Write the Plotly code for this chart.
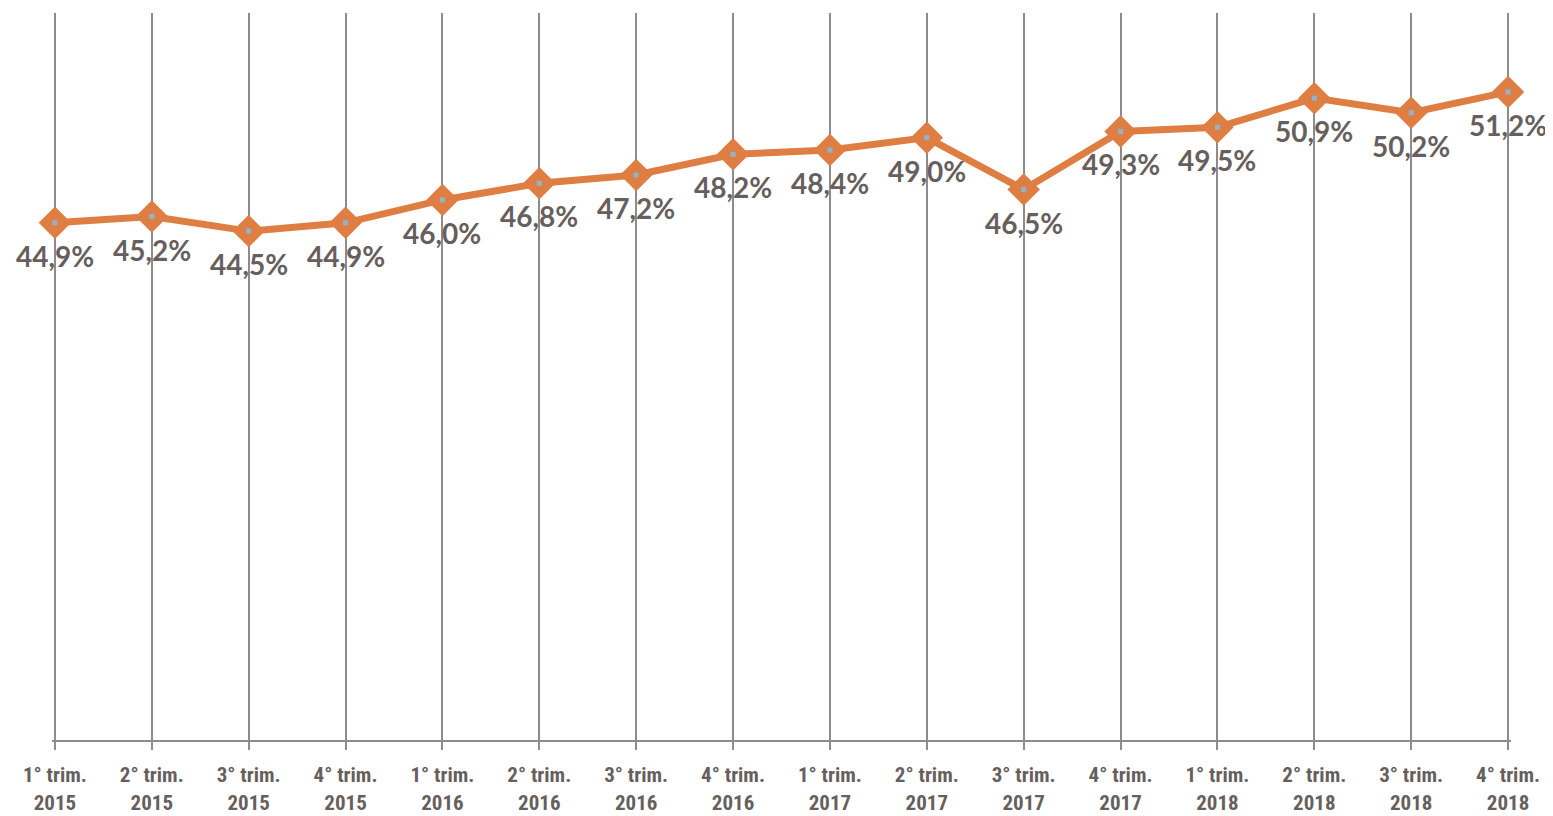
import plotly.graph_objects as go

quarters = ["1° trim.", "2° trim.", "3° trim.", "4° trim."] * 4
years = ["2015"] * 4 + ["2016"] * 4 + ["2017"] * 4 + ["2018"] * 4
values = [44.9, 45.2, 44.5, 44.9, 46.0, 46.8, 47.2, 48.2, 48.4, 49.0, 46.5, 49.3, 49.5, 50.9, 50.2, 51.2]

x = list(range(len(values)))
tick_text = [f"{q}<br>{y}" for q, y in zip(quarters, years)]
labels = [f"{v:.1f}".replace(".", ",") + "%" for v in values]

ORANGE = "#DF7E43"
TEXT = "#675F5E"
GRID = "#8C8C8C"

fig = go.Figure()
fig.add_trace(go.Scatter(
    x=x, y=values, mode="lines",
    line=dict(color=ORANGE, width=7),
    cliponaxis=False, hoverinfo="skip", showlegend=False,
))
fig.add_trace(go.Scatter(
    x=x, y=values, mode="markers",
    marker=dict(symbol="diamond", size=25, color=ORANGE, line=dict(width=0)),
    cliponaxis=False, hoverinfo="skip", showlegend=False,
))
fig.add_trace(go.Scatter(
    x=x, y=values, mode="markers",
    marker=dict(symbol="circle", size=21, color=ORANGE, line=dict(width=0)),
    cliponaxis=False, hoverinfo="skip", showlegend=False,
))
fig.add_trace(go.Scatter(
    x=x, y=values, mode="markers",
    marker=dict(symbol="square", size=5, color="#93B3CC", line=dict(width=0)),
    cliponaxis=False, hoverinfo="skip", showlegend=False,
))

for xi, v, lab in zip(x, values, labels):
    fig.add_annotation(x=xi, y=v, text=lab, showarrow=False, yshift=-33,
                       font=dict(family="Lato", size=28, color=TEXT, weight="bold"))

fig.update_layout(
    width=1553, height=816,
    margin=dict(l=44, r=50, t=5, b=84),
    paper_bgcolor="white", plot_bgcolor="white",
    xaxis=dict(
        range=[-0.03, 15.03], tickmode="array", tickvals=x, ticktext=tick_text,
        showgrid=True, gridcolor=GRID, gridwidth=2,
        showline=True, linecolor=GRID, linewidth=2,
        ticks="outside", ticklen=8, tickwidth=2, tickcolor=GRID,
        ticklabelstandoff=7,
        tickfont=dict(family="Roboto Condensed, Roboto", size=21, color=TEXT, weight="bold"),
        zeroline=False, fixedrange=True,
    ),
    yaxis=dict(
        range=[20, 55], showgrid=False, showticklabels=False, zeroline=False,
        showline=False, fixedrange=True,
    ),
)

fig.write_html("out.html")
